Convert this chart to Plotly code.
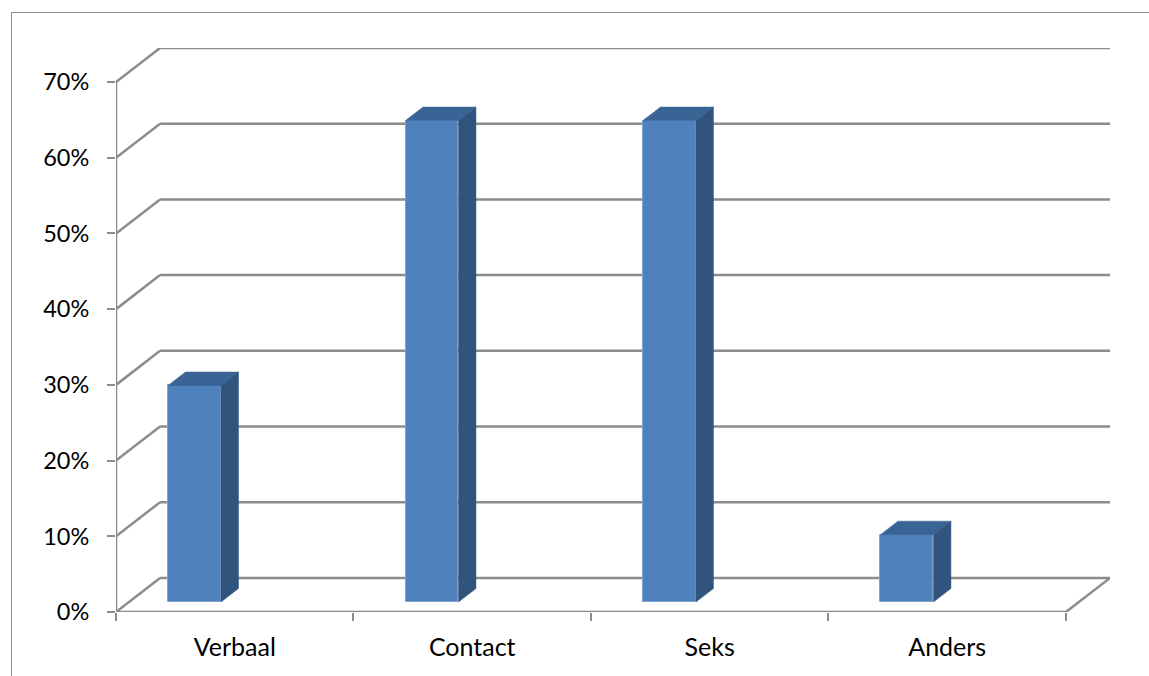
import plotly.graph_objects as go

# Data
categories = ["Verbaal", "Contact", "Seks", "Anders"]
shares = [0.286, 0.636, 0.636, 0.089]
y_ticks = [0.0, 0.1, 0.2, 0.3, 0.4, 0.5, 0.6, 0.7]
y_tick_labels = ["0%", "10%", "20%", "30%", "40%", "50%", "60%", "70%"]

# Figure geometry
W, H = 1149, 676
M_L, M_R, M_T, M_B = 116, 39, 48, 64

# Pseudo-3D projection: wall depth offset in data units
DX, DY = 0.1855, 0.045
X0, X1 = -0.5, len(categories) - 0.5
Y_MAX = y_ticks[-1]

# Bar geometry (data units)
BAR_OFF = -0.281      # front face left edge relative to category centre
BAR_W = 0.223         # front face width
BAR_BASE = 0.0132     # front face bottom (bar sits inside the floor depth)
BAR_DX, BAR_DY = 0.0737, 0.0178   # bar depth

GRID = "#8C8C8C"
FRONT = "#4F81BD"
TOP = "#3A6396"
SIDE = "#31547F"
FONT = "Lato"

fig = go.Figure()

# Front faces of the columns
fig.add_trace(go.Bar(
    x=list(range(len(categories))), y=shares, base=BAR_BASE,
    offset=BAR_OFF, width=BAR_W,
    marker=dict(color=FRONT, line=dict(color="#7FA2D0", width=1)),
    hoverinfo="skip", showlegend=False,
))

# Top and side faces
for i, v in enumerate(shares):
    xl = i + BAR_OFF
    xr = xl + BAR_W
    top = BAR_BASE + v
    fig.add_trace(go.Scatter(
        x=[xl, xr, xr + BAR_DX, xl + BAR_DX, xl],
        y=[top, top, top + BAR_DY, top + BAR_DY, top],
        mode="lines", fill="toself", fillcolor=TOP,
        line=dict(color=TOP, width=0.5), hoverinfo="skip", showlegend=False,
    ))
    fig.add_trace(go.Scatter(
        x=[xr, xr + BAR_DX, xr + BAR_DX, xr, xr],
        y=[BAR_BASE, BAR_BASE + BAR_DY, top + BAR_DY, top, BAR_BASE],
        mode="lines", fill="toself", fillcolor=SIDE,
        line=dict(color=SIDE, width=0.5), hoverinfo="skip", showlegend=False,
    ))

# Walls, floor and gridlines
shapes = []
line = dict(color=GRID, width=2.5)
for v in y_ticks:
    shapes.append(dict(type="line", xref="x", yref="y", layer="below",
                       x0=X0, y0=v, x1=X0 + DX, y1=v + DY, line=line))
    shapes.append(dict(type="line", xref="x", yref="y", layer="below",
                       x0=X0 + DX, y0=v + DY, x1=X1 + DX, y1=v + DY, line=line))
shapes.append(dict(type="line", xref="x", yref="y", layer="below",
                   x0=X0, y0=0, x1=X1, y1=0, line=line))
shapes.append(dict(type="line", xref="x", yref="y", layer="below",
                   x0=X1, y0=0, x1=X1 + DX, y1=DY, line=line))
shapes.append(dict(type="line", xref="x", yref="y", layer="below",
                   x0=X0, y0=0, x1=X0, y1=Y_MAX, line=line))

# Chart area border (left and top edges)
pw, ph = W - M_L - M_R, H - M_T - M_B
bx = (11.5 - M_L) / pw
by = (H - M_B - 12.5) / ph
shapes.append(dict(type="line", xref="paper", yref="paper", x0=bx, y0=by, x1=(W - M_L) / pw + 0.01, y1=by,
                   line=dict(color="#8E8E8E", width=1)))
shapes.append(dict(type="line", xref="paper", yref="paper", x0=bx, y0=by, x1=bx, y1=-M_B / ph - 0.01,
                   line=dict(color="#8E8E8E", width=1)))

fig.update_layout(
    width=W, height=H,
    margin=dict(l=M_L, r=M_R, t=M_T, b=M_B),
    paper_bgcolor="white", plot_bgcolor="white",
    shapes=shapes,
    font=dict(family=FONT, size=25, color="#000000"),
    xaxis=dict(
        range=[X0, X1 + DX], showgrid=False, zeroline=False, showline=False,
        tickmode="array", tickvals=list(range(len(categories))), ticktext=categories,
        ticks="", ticklabelstandoff=18, tickfont=dict(size=25),
        minor=dict(tickmode="linear", tick0=X0, dtick=1, ticks="outside",
                   ticklen=8, tickwidth=2, tickcolor=GRID, showgrid=False),
        fixedrange=True,
    ),
    yaxis=dict(
        range=[0, Y_MAX + DY], showgrid=False, zeroline=False, showline=False,
        tickmode="array", tickvals=y_ticks, ticktext=y_tick_labels,
        ticks="outside", ticklen=8, tickwidth=2, tickcolor=GRID,
        ticklabelstandoff=13, tickfont=dict(size=23.5), fixedrange=True,
    ),
    bargap=0,
)

fig.write_html("out.html")
